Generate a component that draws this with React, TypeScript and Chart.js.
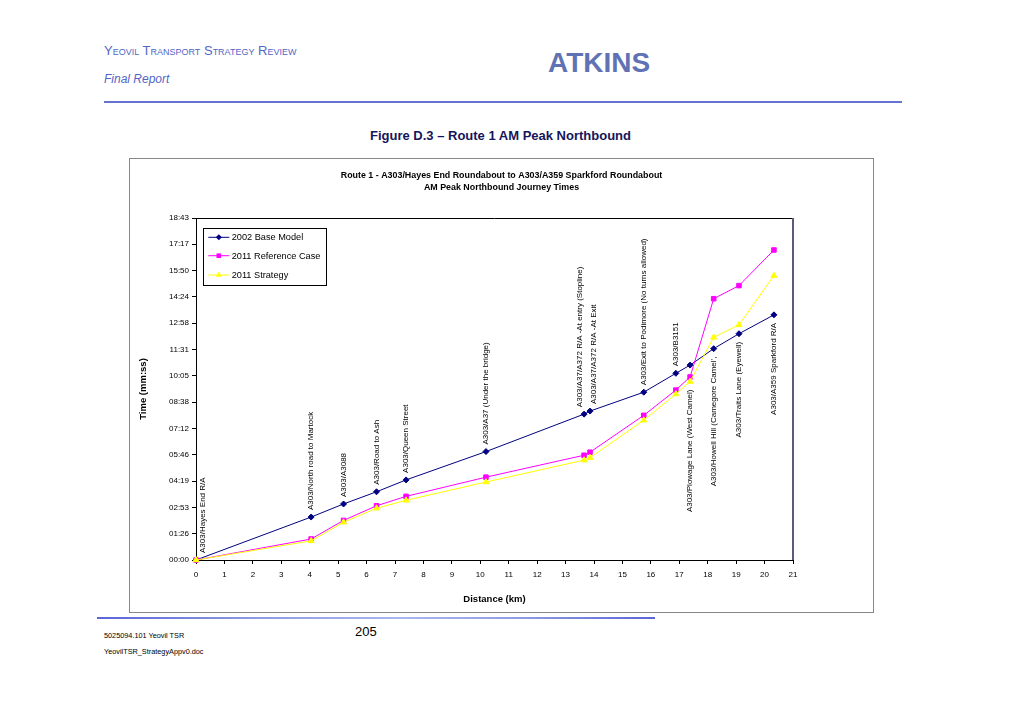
import React, { useEffect, useRef } from 'react';
import { Chart, registerables } from 'chart.js';

Chart.register(...registerables);

// ---------------- data ----------------
const distancesKm = [0, 4.05, 5.19, 6.35, 7.39, 10.2, 13.65, 13.86, 15.75, 16.88, 17.38, 18.21, 19.1, 20.33];

const junctionLabels = [
  'A303/Hayes End R/A',
  'A303/North road to Martock',
  'A303/A3088',
  'A303/Road to Ash',
  'A303/Queen Street',
  'A303/A37 (Under the bridge)',
  'A303/A37/A372 R/A -At entry (Stopline)',
  'A303/A37/A372 R/A -At Exit',
  'A303/Exit to Podimore (No turns allowed)',
  'A303/B3151',
  'A303/Plowage Lane (West Camel)',
  "A303/Howell Hill (Camegore Camel',",
  'A303/Traits Lane (Eyewell)',
  'A303/A359 Sparkford R/A',
];

const labelSide = [
  'above', 'above', 'above', 'above', 'above', 'above', 'above',
  'above', 'above', 'above', 'below', 'below', 'below', 'below',
];

// journey times in seconds
const base2002 = [0, 141, 184, 224, 263, 356, 479, 489, 551, 613, 640, 694, 743, 805];
const reference2011 = [0, 69, 130, 178, 209, 272, 344, 354, 475, 558, 601, 858, 901, 1018];
const strategy2011 = [0, 63, 124, 170, 196, 256, 328, 336, 459, 545, 586, 731, 772, 934];

const seriesNames = ['2002 Base Model', '2011 Reference Case', '2011 Strategy'];

const yTickLabels = ['00:00', '01:26', '02:53', '04:19', '05:46', '07:12', '08:38', '10:05', '11:31', '12:58', '14:24', '15:50', '17:17', '18:43'];
const xAxisMin = 0;
const xAxisMax = 21;

const chartTitle = [
  'Route 1 - A303/Hayes End Roundabout to A303/A359 Sparkford Roundabout',
  'AM Peak Northbound Journey Times',
];

// ---------------- styles ----------------
const FONT = '"Liberation Sans", Arial, Helvetica, sans-serif';
const NAVY = '#000080';
const PINK = '#ff00ff';
const YELLOW = '#ffff00';
const HEADER_BLUE = '#5266c6';

const toSeconds = (s: string) => {
  const [m, sec] = s.split(':').map(Number);
  return m * 60 + sec;
};

const toXY = (vals: number[]) => vals.map((v, i) => ({ x: distancesKm[i], y: v }));

function drawMarker(ctx: CanvasRenderingContext2D, style: string, x: number, y: number, color: string) {
  ctx.save();
  ctx.fillStyle = color;
  ctx.strokeStyle = color;
  ctx.beginPath();
  if (style === 'rectRot') {
    const r = 3;
    ctx.moveTo(x, y - r);
    ctx.lineTo(x + r, y);
    ctx.lineTo(x, y + r);
    ctx.lineTo(x - r, y);
    ctx.closePath();
  } else if (style === 'rect') {
    const h = 2.3;
    ctx.rect(x - h, y - h, 2 * h, 2 * h);
  } else {
    const r = 3.4;
    ctx.moveTo(x, y - r);
    ctx.lineTo(x + r * 0.866, y + r * 0.5);
    ctx.lineTo(x - r * 0.866, y + r * 0.5);
    ctx.closePath();
  }
  ctx.fill();
  ctx.restore();
}

const legendPlugin = {
  id: 'inPlotLegend',
  afterDraw(chart: any) {
    const { ctx, chartArea } = chart;
    const bx = chartArea.left + 6.7;
    const by = chartArea.top + 10.3;
    const bw = 122.6;
    const bh = 56.7;
    ctx.save();
    ctx.fillStyle = '#ffffff';
    ctx.fillRect(bx, by, bw, bh);
    ctx.strokeStyle = '#000000';
    ctx.lineWidth = 1;
    ctx.strokeRect(Math.round(bx) + 0.5, Math.round(by) + 0.5, Math.round(bw), Math.round(bh));
    const rows = [9, 27.4, 46.7];
    chart.data.datasets.forEach((ds: any, i: number) => {
      const yy = by + rows[i];
      ctx.strokeStyle = ds.borderColor;
      ctx.lineWidth = 1;
      ctx.beginPath();
      ctx.moveTo(bx + 5.6, yy);
      ctx.lineTo(bx + 26.6, yy);
      ctx.stroke();
      drawMarker(ctx, ds.pointStyle, bx + 16.1, yy, ds.backgroundColor);
      ctx.fillStyle = '#000';
      ctx.font = `9.2px ${FONT}`;
      ctx.textAlign = 'left';
      ctx.textBaseline = 'middle';
      ctx.fillText(ds.label, bx + 29, yy + 0.5);
    });
    ctx.restore();
  },
};

const junctionLabelPlugin = {
  id: 'junctionLabels',
  afterDatasetsDraw(chart: any) {
    const { ctx, chartArea } = chart;
    const metas = chart.data.datasets.map((_: any, i: number) => chart.getDatasetMeta(i));
    const items = junctionLabels.map((text, i) => {
      const pts = metas.map((m: any) => m.data[i]);
      const top = Math.min(...pts.map((p: any) => p.y));
      const bottom = Math.max(...pts.map((p: any) => p.y));
      const below = labelSide[i] === 'below';
      return { text, x: pts[0].x as number, y: below ? bottom + 8 : top - 7, below };
    });
    items.forEach((it) => {
      it.x = Math.max(it.x, chartArea.left + 7);
    });
    for (let i = 1; i < items.length; i++) {
      const a = items[i - 1];
      const b = items[i];
      if (a.below === b.below && b.x - a.x < 14) {
        const d = (14 - (b.x - a.x)) / 2;
        a.x -= d;
        b.x += d;
      }
    }
    ctx.save();
    ctx.font = `8px ${FONT}`;
    ctx.fillStyle = '#000';
    ctx.textBaseline = 'middle';
    items.forEach((it) => {
      ctx.save();
      ctx.translate(it.x, it.y);
      ctx.rotate(-Math.PI / 2);
      ctx.textAlign = it.below ? 'right' : 'left';
      ctx.fillText(it.text, 0, 0);
      ctx.restore();
    });
    ctx.restore();
  },
};

const plotFramePlugin = {
  id: 'plotFrame',
  beforeDatasetsDraw(chart: any) {
    const { ctx, chartArea } = chart;
    ctx.save();
    ctx.strokeStyle = '#000000';
    ctx.lineWidth = 1;
    ctx.beginPath();
    ctx.moveTo(chartArea.left, Math.round(chartArea.top) + 0.5);
    ctx.lineTo(chartArea.right, Math.round(chartArea.top) + 0.5);
    ctx.stroke();
    ctx.strokeStyle = '#5c5c7a';
    ctx.lineWidth = 2;
    ctx.beginPath();
    ctx.moveTo(Math.round(chartArea.right), chartArea.top);
    ctx.lineTo(Math.round(chartArea.right), chartArea.bottom);
    ctx.stroke();
    ctx.restore();
  },
};

export default function App() {
  const canvasRef = useRef<HTMLCanvasElement>(null);

  useEffect(() => {
    if (!canvasRef.current) return;
    Chart.defaults.font.family = FONT;
    Chart.defaults.color = '#000000';
    const yTickValues = yTickLabels.map(toSeconds);

    const chart = new Chart(canvasRef.current, {
      type: 'line',
      data: {
        datasets: [
          {
            label: seriesNames[0],
            data: toXY(base2002),
            borderColor: NAVY,
            backgroundColor: NAVY,
            pointStyle: 'rectRot',
            pointRadius: 3,
            pointBorderWidth: 1,
            borderWidth: 1,
            order: 2,
            clip: false as any,
          },
          {
            label: seriesNames[1],
            data: toXY(reference2011),
            borderColor: PINK,
            backgroundColor: PINK,
            pointStyle: 'rect',
            pointRadius: 3.2,
            pointBorderWidth: 1,
            borderWidth: 1,
            order: 1,
            clip: false as any,
          },
          {
            label: seriesNames[2],
            data: toXY(strategy2011),
            borderColor: YELLOW,
            backgroundColor: YELLOW,
            pointStyle: 'triangle',
            pointRadius: 3.4,
            pointBorderWidth: 1,
            borderWidth: 1,
            order: 0,
            clip: false as any,
          },
        ],
      },
      options: {
        animation: false,
        responsive: false,
        events: [],
        layout: { padding: { top: 10, right: 0, bottom: 0, left: 0 } },
        plugins: {
          legend: { display: false },
          tooltip: { enabled: false },
          title: {
            display: true,
            text: chartTitle,
            color: '#000',
            font: { size: 8.9, weight: 'bold', family: FONT, lineHeight: 1.416 },
            padding: { top: 0, bottom: 23.8 },
          },
        },
        scales: {
          x: {
            type: 'linear',
            min: xAxisMin,
            max: xAxisMax,
            afterFit: (s: any) => {
              s.height = 52;
            },
            ticks: { stepSize: 1, font: { size: 8, family: FONT }, color: '#000', padding: 5.5, maxRotation: 0, autoSkip: false },
            grid: { drawOnChartArea: false, drawTicks: true, tickLength: 4, color: '#000' },
            border: { color: '#000', width: 1 },
            title: {
              display: true,
              text: 'Distance (km)',
              color: '#000',
              font: { size: 9.5, weight: 'bold', family: FONT },
              padding: { top: 0, bottom: 7 },
            },
          },
          y: {
            type: 'linear',
            min: 0,
            max: yTickValues[yTickValues.length - 1],
            afterFit: (s: any) => {
              s.width = 66;
            },
            afterBuildTicks: (s: any) => {
              s.ticks = yTickValues.map((v) => ({ value: v }));
            },
            ticks: {
              font: { size: 8, family: FONT },
              color: '#000',
              padding: 3,
              callback: (_v: any, i: number) => yTickLabels[i],
            },
            grid: { drawOnChartArea: false, drawTicks: true, tickLength: 4, color: '#000' },
            border: { color: '#000', width: 1 },
            title: {
              display: true,
              text: 'Time (mm:ss)',
              color: '#000',
              font: { size: 9.5, weight: 'bold', family: FONT },
              padding: { top: 7.6, bottom: 0 },
            },
          },
          // empty spacer on the right so the chart title centres on the whole frame
          spacer: {
            type: 'linear',
            position: 'right',
            display: true,
            afterFit: (s: any) => {
              s.width = 80;
            },
            ticks: { display: false },
            grid: { display: false, drawTicks: false },
            border: { display: false },
            title: { display: false },
          },
        },
      } as any,
      plugins: [plotFramePlugin, junctionLabelPlugin, legendPlugin],
    });
    return () => chart.destroy();
  }, []);

  const abs = (o: React.CSSProperties): React.CSSProperties => ({ position: 'absolute', whiteSpace: 'nowrap', margin: 0, ...o });

  return (
    <div style={{ position: 'absolute', left: 0, top: 0, width: 1020, height: 721, background: '#ffffff', overflow: 'hidden', fontFamily: FONT }}>
      <div style={abs({ left: 104, top: 43, fontSize: 13, lineHeight: '16px', fontVariant: 'small-caps', color: HEADER_BLUE })}>
        Yeovil Transport Strategy Review
      </div>
      <div style={abs({ left: 104, top: 72, fontSize: 12, lineHeight: '14px', fontStyle: 'italic', color: HEADER_BLUE })}>Final Report</div>
      <div style={abs({ left: 548, top: 48.8, fontSize: 28, lineHeight: '28px', fontWeight: 'bold', color: '#5f73b4', letterSpacing: 0 })}>ATKINS</div>
      <div style={abs({ left: 104, top: 101, width: 798, height: 2, background: '#6473cf' })} />
      <div style={abs({ left: 370, top: 127.5, fontSize: 13, lineHeight: '15px', fontWeight: 'bold', color: '#15155a' })}>
        Figure D.3 – Route 1 AM Peak Northbound
      </div>

      <div style={abs({ left: 129, top: 158, width: 745, height: 455, boxSizing: 'border-box', border: '1px solid #878787' })} />
      <canvas ref={canvasRef} width={743} height={453} style={{ position: 'absolute', left: 130, top: 159, width: 743, height: 453 }} />

      <div
        style={abs({
          left: 97,
          top: 617,
          width: 558,
          height: 2,
          background: 'linear-gradient(to right, #5a66d6 0%, #8f9de6 30%, #aab6ee 55%, #8f9de6 75%, #5a66d6 100%)',
        })}
      />
      <div style={abs({ left: 355, top: 624, fontSize: 13, lineHeight: '16px', color: '#000' })}>205</div>
      <div style={abs({ left: 104, top: 631, fontSize: 7.3, lineHeight: '10px', color: '#000' })}>5025094.101 Yeovil TSR</div>
      <div style={abs({ left: 104, top: 647, fontSize: 7.3, lineHeight: '10px', color: '#000' })}>YeovilTSR_StrategyAppv0.doc</div>
    </div>
  );
}
